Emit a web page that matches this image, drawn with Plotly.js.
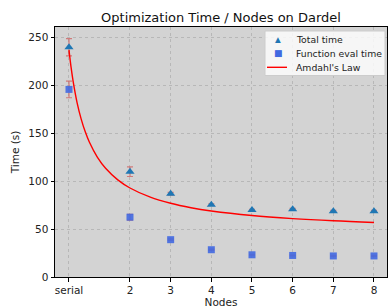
<!DOCTYPE html>
<html>
<head>
<meta charset="utf-8">
<script src="https://cdn.plot.ly/plotly-3.0.1.min.js"></script>
<style>html,body{margin:0;padding:0;background:#fff;}#chart{width:388px;height:308px;}</style>
</head>
<body>
<div id="chart"></div>
<script>
// Data
const nodePositions = [0.5, 2, 3, 4, 5, 6, 7, 8];
const tickLabels = ["serial", "2", "3", "4", "5", "6", "7", "8"];
const totalTime = [240, 110, 87, 75.5, 70, 70.8, 68.8, 68.8];
const totalErr = [9, 5, 1.5, 0.8, 0.8, 0.8, 0.8, 0.8];
const funcTime = [196, 62.5, 39, 28.5, 23.2, 22.5, 22, 22];
const funcErr = [8.7, 3, 0.8, 0.6, 0.5, 0.5, 0.5, 0.5];
const amdahlX = [0.5, 0.55, 0.6, 0.7, 0.8, 0.9, 1.0, 1.2, 1.4, 1.7, 2, 2.5, 3, 3.5, 4, 5, 6, 7, 8];
const amdahlY = [237, 219.5, 205, 182, 165, 151.7, 141, 125, 113.6, 101.5, 93, 83.4, 77, 72.4, 69, 64.2, 61, 58.7, 57];
const legendNames = ["Total time", "Function eval time", "Amdahl's Law"];

const font = "DejaVu Sans, sans-serif";
const errStyle = {type: "data", visible: true, color: "rgba(205,92,92,0.75)", thickness: 1.2, width: 3};
const colTotal = "#1f77b4", colFunc = "#4169e1", colLine = "#ff0000";

const traces = [
  {
    x: nodePositions, y: totalTime, type: "scatter", mode: "markers", name: legendNames[0],
    marker: {symbol: "triangle-up", size: 8, color: colTotal},
    error_y: Object.assign({array: totalErr}, errStyle)
  },
  {
    x: nodePositions, y: funcTime, type: "scatter", mode: "markers", name: legendNames[1],
    marker: {symbol: "square", size: 7, color: colFunc, opacity: 0.9},
    error_y: Object.assign({array: funcErr}, errStyle)
  },
  {
    x: amdahlX, y: amdahlY, type: "scatter", mode: "lines", name: legendNames[2],
    line: {color: colLine, width: 1.4, shape: "spline"}
  }
];

// Compact legend (matplotlib-like), placed in paper coordinates of the plot area
const L = 55, T = 27, W = 332, H = 250;
const px = v => (v - L) / W;
const py = v => (T + H - v) / H;
const rowsY = [39.7, 53.3, 67.3];
const legFont = {family: font, size: 9.3, color: "#222"};
const shapes = [
  {type: "rect", xref: "paper", yref: "paper", x0: px(265), x1: px(385), y0: py(75.5), y1: py(31),
   fillcolor: "rgba(255,255,255,0.8)", line: {color: "#cccccc", width: 1}, layer: "above"},
  {type: "line", xref: "paper", yref: "paper", x0: px(267), x1: px(287), y0: py(rowsY[2]), y1: py(rowsY[2]),
   line: {color: colLine, width: 1.4}, layer: "above"}
];
const annotations = [];
legendNames.forEach((n, i) => {
  annotations.push({xref: "paper", yref: "paper", x: px(295), y: py(rowsY[i]), xanchor: "left", yanchor: "middle",
    text: n, showarrow: false, font: legFont, borderpad: 0});
});
annotations.push({xref: "paper", yref: "paper", x: px(278), y: py(rowsY[0]) + 0.002, xanchor: "center", yanchor: "middle",
  text: "▲", showarrow: false, font: {family: font, size: 7.5, color: colTotal}, borderpad: 0});
annotations.push({xref: "paper", yref: "paper", x: px(278), y: py(rowsY[1]), xanchor: "center", yanchor: "middle",
  text: "■", showarrow: false, font: {family: font, size: 9, color: colFunc}, borderpad: 0});

const layout = {
  width: 388, height: 308,
  margin: {l: 55, r: 1, t: 27, b: 31, pad: 0},
  paper_bgcolor: "#ffffff",
  plot_bgcolor: "#d3d3d3",
  font: {family: font, size: 10.5, color: "#222"},
  title: {text: "Optimization Time / Nodes on Dardel", font: {family: font, size: 13, color: "#111"}, x: 0.5, xref: "paper", y: 1 - 17 / 308, yanchor: "middle"},
  xaxis: {
    range: [0.156, 8.32], tickmode: "array", tickvals: nodePositions, ticktext: tickLabels,
    ticks: "outside", ticklen: 3.5, tickcolor: "#000", showline: true, linecolor: "#000", linewidth: 1, mirror: true,
    showgrid: true, gridcolor: "#b0b0b0", griddash: "dot", gridwidth: 0.8, zeroline: false,
    title: {text: "Nodes", font: {family: font, size: 10.5}, standoff: 3},
    tickfont: {family: font, size: 10.5, color: "#222"}
  },
  yaxis: {
    range: [0, 261.2], tickvals: [0, 50, 100, 150, 200, 250],
    ticks: "outside", ticklen: 3.5, tickcolor: "#000", showline: true, linecolor: "#000", linewidth: 1, mirror: true,
    showgrid: true, gridcolor: "#b0b0b0", griddash: "dot", gridwidth: 0.8, zeroline: false,
    title: {text: "Time (s)", font: {family: font, size: 10.5}, standoff: 6},
    tickfont: {family: font, size: 10.5, color: "#222"}
  },
  showlegend: false,
  shapes: shapes,
  annotations: annotations
};

Plotly.newPlot("chart", traces, layout, {staticPlot: true, displayModeBar: false});
</script>
</body>
</html>
